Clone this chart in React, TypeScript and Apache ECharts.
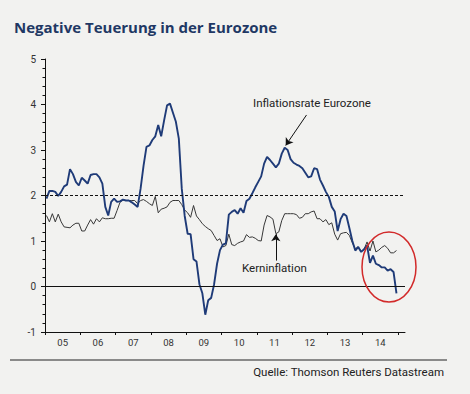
import React, { useEffect, useRef } from 'react';
import * as echarts from 'echarts';

const START_YEAR = 2005;
const YEAR_LABELS = ['05', '06', '07', '08', '09', '10', '11', '12', '13', '14'];
const Y_TICKS = [-1, 0, 1, 2, 3, 4, 5];

// Monthly values Jan 2005 .. Dec 2014
const INFLATION = [
  1.93, 2.10, 2.10, 2.08, 1.99, 2.08, 2.20, 2.24, 2.58, 2.47, 2.30, 2.22,
  2.39, 2.33, 2.26, 2.45, 2.47, 2.47, 2.40, 2.26, 1.75, 1.56, 1.86, 1.93,
  1.86, 1.87, 1.91, 1.89, 1.89, 1.85, 1.80, 1.75, 2.15, 2.65, 3.07, 3.10,
  3.22, 3.30, 3.55, 3.30, 3.65, 3.98, 4.02, 3.82, 3.62, 3.25, 2.15, 1.55,
  1.16, 1.15, 0.60, 0.55, 0.05, -0.15, -0.62, -0.30, -0.25, 0.05, 0.50, 0.80,
  0.92, 0.95, 1.58, 1.64, 1.68, 1.60, 1.72, 1.62, 1.88, 1.93, 2.05, 2.18,
  2.30, 2.42, 2.70, 2.85, 2.78, 2.70, 2.62, 2.70, 2.92, 3.05, 3.00, 2.80,
  2.72, 2.68, 2.65, 2.60, 2.50, 2.40, 2.42, 2.60, 2.58, 2.35, 2.22, 2.08,
  1.97, 1.75, 1.65, 1.22, 1.48, 1.60, 1.55, 1.28, 1.00, 0.79, 0.87, 0.76,
  0.82, 0.90, 0.52, 0.68, 0.50, 0.47, 0.42, 0.42, 0.35, 0.38, 0.32, -0.15,
];

const CORE = [
  1.56, 1.42, 1.60, 1.42, 1.59, 1.42, 1.31, 1.30, 1.29, 1.35, 1.39, 1.39,
  1.22, 1.22, 1.35, 1.47, 1.37, 1.49, 1.42, 1.51, 1.49, 1.49, 1.50, 1.50,
  1.67, 1.85, 1.90, 1.89, 1.89, 1.89, 1.89, 1.82, 1.89, 1.91, 1.87, 1.82,
  1.78, 1.98, 1.62, 1.70, 1.72, 1.75, 1.85, 1.89, 1.89, 1.89, 1.80, 1.68,
  1.62, 1.52, 1.78, 1.55, 1.47, 1.38, 1.32, 1.27, 1.23, 1.12, 1.01, 1.05,
  0.87, 0.90, 1.15, 0.92, 0.90, 0.95, 0.98, 1.00, 1.14, 1.08, 1.09, 1.06,
  1.01, 1.00, 1.35, 1.56, 1.53, 1.48, 1.16, 1.20, 1.45, 1.60, 1.60, 1.60,
  1.60, 1.58, 1.50, 1.52, 1.60, 1.60, 1.64, 1.66, 1.49, 1.49, 1.42, 1.47,
  1.36, 1.40, 1.15, 1.02, 1.16, 1.18, 1.19, 1.12, 0.96, 0.83, 0.87, 0.77,
  0.82, 0.98, 0.78, 1.00, 0.76, 0.80, 0.86, 0.90, 0.84, 0.74, 0.74, 0.79,
];

const toPairs = (arr: number[]) => arr.map((v, i) => [START_YEAR + (i + 0.5) / 12, v]);

const FONT = 'Roboto, "Open Sans", sans-serif';
const TITLE_FONT = '"Open Sans", Roboto, sans-serif';

export default function App() {
  const ref = useRef<HTMLDivElement>(null);

  useEffect(() => {
    const chart = echarts.init(ref.current!, null, { renderer: 'svg' });
    const option: any = {
      animation: false,
      backgroundColor: '#f2f2f0',
      title: {
        text: 'Negative Teuerung in der Eurozone',
        left: 9,
        top: 14,
        textStyle: { fontFamily: TITLE_FONT, fontWeight: 'bold', fontSize: 15, color: '#1f3864' },
      },
      grid: [
        { left: 45, top: 59, width: 360, height: 273 },
        { left: 45, top: 59, width: 353, height: 273 },
      ],
      xAxis: [
        {
          type: 'value', gridIndex: 0, min: START_YEAR, max: 2015.2, interval: 1,
          axisLine: { show: true, onZero: false, lineStyle: { color: '#111', width: 1 } },
          axisTick: { show: false }, axisLabel: { show: false }, splitLine: { show: false },
        },
        {
          type: 'category', gridIndex: 1, data: YEAR_LABELS, boundaryGap: true,
          axisLine: { show: false, onZero: false },
          axisTick: { show: true, length: 3, lineStyle: { color: '#111' } },
          axisLabel: { fontSize: 9.5, color: '#333', margin: 5, fontFamily: FONT },
          splitLine: { show: false },
        },
      ],
      yAxis: [
        {
          type: 'value', gridIndex: 0, min: Y_TICKS[0], max: Y_TICKS[Y_TICKS.length - 1], interval: 1,
          axisLine: { show: true, onZero: false, lineStyle: { color: '#111', width: 1 } },
          axisTick: { show: true, length: 4, lineStyle: { color: '#111' } },
          minorTick: { show: true, splitNumber: 5, length: 2.5, lineStyle: { color: '#111' } },
          axisLabel: { fontSize: 10, color: '#333', margin: 9, fontFamily: FONT },
          splitLine: { show: false },
        },
        { type: 'value', gridIndex: 1, min: -1, max: 5, show: false },
      ],
      series: [
        {
          name: 'Kerninflation', type: 'line', xAxisIndex: 0, yAxisIndex: 0,
          data: toPairs(CORE), symbol: 'none', showSymbol: false,
          lineStyle: { color: '#383838', width: 1 }, z: 2,
          markLine: {
            silent: true, symbol: ['none', 'arrow'], symbolSize: 7,
            label: { show: false },
            lineStyle: { color: '#111', width: 1, type: 'solid' },
            data: [
              [{ coord: [2012.41, 3.77] }, { coord: [2011.82, 3.1] }],
              [{ coord: [2011.54, 0.57] }, { coord: [2011.54, 1.15] }],
            ],
          },
        },
        {
          name: 'Inflationsrate Eurozone', type: 'line', xAxisIndex: 0, yAxisIndex: 0,
          data: toPairs(INFLATION), symbol: 'none', showSymbol: false,
          lineStyle: { color: '#1f3b78', width: 1.9 }, z: 3,
          markLine: {
            silent: true, symbol: 'none', label: { show: false },
            data: [
              { yAxis: 2, lineStyle: { type: [3, 2], color: '#111', width: 1 } },
              { yAxis: 0, lineStyle: { type: 'solid', color: '#111', width: 1 } },
            ],
          },
        },
      ],
      graphic: [
        {
          type: 'ellipse', shape: { cx: 389, cy: 267, rx: 27, ry: 35 },
          style: { fill: 'none', stroke: '#d22a2a', lineWidth: 1.5 }, z: 10,
        },
        {
          type: 'text', x: 253, y: 103,
          style: { text: 'Inflationsrate Eurozone', fontSize: 11.5, fontFamily: FONT, fill: '#222',
            align: 'left', verticalAlign: 'middle', textAlign: 'left', textVerticalAlign: 'middle' },
        },
        {
          type: 'text', x: 242, y: 268,
          style: { text: 'Kerninflation', fontSize: 11.5, fontFamily: FONT, fill: '#222',
            align: 'left', verticalAlign: 'middle', textAlign: 'left', textVerticalAlign: 'middle' },
        },
        {
          type: 'line', shape: { x1: 10, y1: 360, x2: 447, y2: 360 },
          style: { stroke: '#222', lineWidth: 1 },
        },
        {
          type: 'text', x: 444, y: 372,
          style: { text: 'Quelle: Thomson Reuters Datastream', fontSize: 11.5, fontFamily: FONT, fill: '#222',
            align: 'right', verticalAlign: 'middle', textAlign: 'right', textVerticalAlign: 'middle' },
        },
      ],
    };
    chart.setOption(option);
    return () => chart.dispose();
  }, []);

  return (
    <div
      ref={ref}
      style={{ position: 'fixed', left: 0, top: 0, width: 470, height: 394, background: '#f2f2f0' }}
    />
  );
}
